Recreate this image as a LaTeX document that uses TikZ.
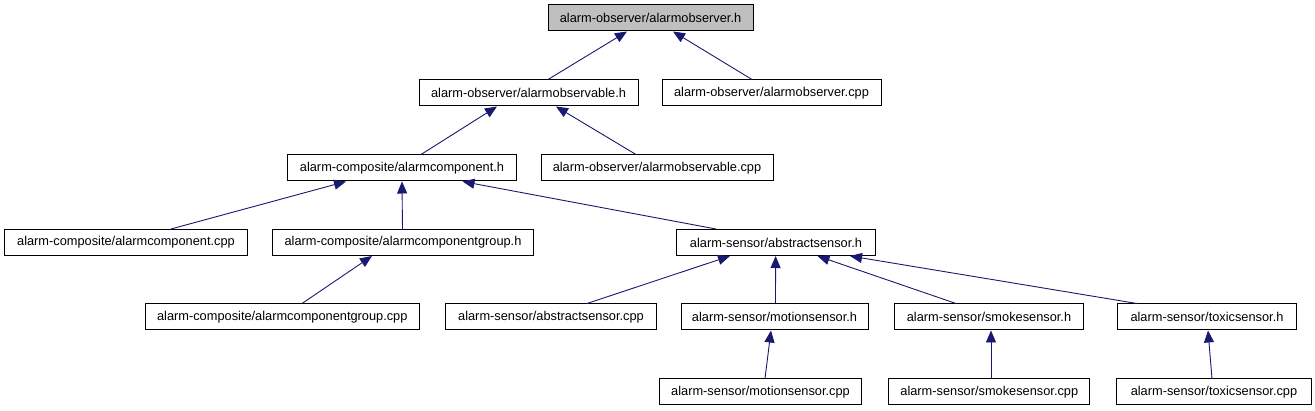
\documentclass[tikz,border=0pt]{standalone}
\usepackage{fontspec}
\setmainfont{Liberation Sans}
\usetikzlibrary{arrows.meta}
\definecolor{edgeblue}{HTML}{191970}
\definecolor{rootgray}{HTML}{BFBFBF}
\begin{document}
\begin{tikzpicture}[x=1pt,y=-1pt,
  filebox/.style={draw=black,line width=1pt,fill=white,inner sep=0pt,minimum height=26pt,
    font=\fontsize{12.8}{15}\selectfont,anchor=center},
  dep/.style={draw=edgeblue,line width=0.9pt,-{Triangle[length=12pt,width=10pt]}}]
\useasboundingbox (0,0) rectangle (1315,411);
\fill[white] (0,0) rectangle (1315,411);
% nodes
\node[filebox,fill=rootgray,minimum width=205pt] (obsh) at (650.5,18) {alarm-observer/alarmobserver.h};
\node[filebox,minimum width=219pt] (obsableh) at (528.5,93) {alarm-observer/alarmobservable.h};
\node[filebox,minimum width=219pt] (obscpp) at (771.5,93) {alarm-observer/alarmobserver.cpp};
\node[filebox,minimum width=229.5pt] (comph) at (402,168) {alarm-composite/alarmcomponent.h};
\node[filebox,minimum width=232pt] (obsablecpp) at (657,168) {alarm-observer/alarmobservable.cpp};
\node[filebox,minimum width=243pt] (compcpp) at (126,242.5) {alarm-composite/alarmcomponent.cpp};
\node[filebox,minimum width=261.6pt] (grouph) at (403,242.5) {alarm-composite/alarmcomponentgroup.h};
\node[filebox,minimum width=198.5pt] (abssh) at (776,242.5) {alarm-sensor/abstractsensor.h};
\node[filebox,minimum width=274.6pt] (groupcpp) at (282.3,317) {alarm-composite/alarmcomponentgroup.cpp};
\node[filebox,minimum width=211.6pt] (absscpp) at (551,317) {alarm-sensor/abstractsensor.cpp};
\node[filebox,minimum width=187pt] (motionh) at (774.5,317) {alarm-sensor/motionsensor.h};
\node[filebox,minimum width=188.5pt] (smokeh) at (989,317) {alarm-sensor/smokesensor.h};
\node[filebox,minimum width=179.5pt] (toxich) at (1207,317) {alarm-sensor/toxicsensor.h};
\node[filebox,minimum width=202.3pt] (motioncpp) at (760.5,392) {alarm-sensor/motionsensor.cpp};
\node[filebox,minimum width=201pt] (smokecpp) at (989.3,392) {alarm-sensor/smokesensor.cpp};
\node[filebox,minimum width=194.5pt] (toxiccpp) at (1214,392) {alarm-sensor/toxicsensor.cpp};
% edges
\draw[dep] ([xshift=19.5pt]obsableh.north) -- ([xshift=-23.5pt]obsh.south);
\draw[dep] ([xshift=-19.5pt]obscpp.north) -- ([xshift=22.5pt]obsh.south);
\draw[dep] ([xshift=19pt]comph.north) -- ([xshift=-31.5pt]obsableh.south);
\draw[dep] ([xshift=-21pt]obsablecpp.north) -- ([xshift=27.5pt]obsableh.south);
\draw[dep] ([xshift=45pt]compcpp.north) -- ([xshift=-56pt]comph.south);
\draw[dep] ([xshift=-0.5pt]grouph.north) -- (comph.south);
\draw[dep] ([xshift=-60pt]abssh.north) -- ([xshift=60.5pt]comph.south);
\draw[dep] ([xshift=19.7pt]groupcpp.north) -- ([xshift=-31pt]grouph.south);
\draw[dep] ([xshift=36pt]absscpp.north) -- ([xshift=-46pt]abssh.south);
\draw[dep] ([xshift=1pt]motionh.north) -- ([xshift=-0.4pt]abssh.south);
\draw[dep] ([xshift=-33pt]smokeh.north) -- ([xshift=41.5pt]abssh.south);
\draw[dep] ([xshift=-70pt]toxich.north) -- ([xshift=74pt]abssh.south);
\draw[dep] ([xshift=4.5pt]motioncpp.north) -- ([xshift=-3.5pt]motionh.south);
\draw[dep] ([xshift=1.7pt]smokecpp.north) -- ([xshift=2pt]smokeh.south);
\draw[dep] ([xshift=-2pt]toxiccpp.north) -- ([xshift=1pt]toxich.south);
\end{tikzpicture}
\end{document}
